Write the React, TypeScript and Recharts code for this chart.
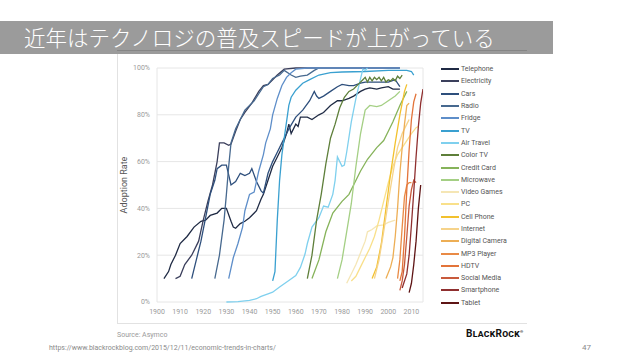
import { CartesianGrid, Label, Line, LineChart, ReferenceLine, XAxis, YAxis } from "recharts";

// [year, adoption %]
const telephone = [[1903,10],[1905,13],[1906,16],[1908,20],[1910,25],[1913,28],[1916,32],[1919,34.5],[1921,35],[1923,37],[1926,38],[1928,40],[1930,40],[1932,34.5],[1933,32],[1934,31.5],[1936,33.5],[1938,34.5],[1940,36],[1943,39],[1945,44],[1946,46],[1948,52],[1950,58],[1952,62],[1954,66],[1956,72],[1957,76],[1958,72],[1960,76],[1961,75],[1962,79],[1965,79],[1967,78],[1970,80],[1972,81],[1975,84],[1978,86],[1980,86],[1983,87],[1985,88],[1988,90],[1990,91],[1992,91.5],[1995,91],[1997,91.5],[2000,92],[2002,91],[2005,91]];
const electricity = [[1908,10],[1910,11],[1912,16],[1915,20],[1918,26],[1920,35],[1922,43],[1924,50],[1926,60],[1927,68],[1929,68],[1931,67],[1932,67.5],[1934,73],[1936,78],[1938,81],[1941,85],[1944,90],[1946,92.5],[1948,93],[1950,95],[1952,97],[1955,99.5],[1960,100],[1980,100],[2005,100]];
const cars = [[1915,10],[1917,18],[1919,26],[1921,36],[1923,46],[1925,52],[1926,57],[1928,58.5],[1930,58.5],[1932,50],[1934,51.5],[1936,55],[1938,54],[1940,55],[1941,57],[1943,51.5],[1945,47.5],[1946,46.5],[1948,55],[1950,60],[1952,64],[1954,68],[1955,70],[1957,74],[1960,79],[1963,82],[1966,86],[1968,90],[1969,88],[1970,87],[1972,88],[1975,90],[1978,92],[1980,93],[1983,92.5],[1985,92.5],[1988,93.5],[1990,94],[1995,94],[2000,94],[2003,95],[2005,92]];
const radio = [[1925,10],[1927,20],[1929,35],[1930,46],[1931,58],[1932,68],[1934,74],[1936,78],[1938,82],[1940,84],[1942,86],[1944,89],[1946,92],[1948,93],[1950,95.5],[1953,97],[1955,99],[1958,97],[1960,96],[1962,96.5],[1965,97],[1968,99],[1970,100]];
const fridge = [[1931,10],[1933,19],[1935,25],[1937,32],[1938,39],[1940,46],[1942,47],[1944,56],[1946,63],[1947,68],[1949,74],[1950,80],[1952,87],[1954,92.5],[1956,96],[1958,98],[1960,99.5],[1965,100],[2005,100]];
const tv = [[1950,9],[1951,13],[1952,35],[1953,52],[1954,63],[1955,70],[1956,77],[1957,84],[1958,87.5],[1960,90.5],[1963,93.5],[1966,95],[1970,97],[1975,98],[1980,98.3],[1990,98.5],[2000,99],[2008,99],[2010,98.5],[2011,97]];
const airTravel = [[1930,0],[1935,0.2],[1940,0.7],[1943,1.4],[1945,2.4],[1948,3.5],[1950,4.2],[1953,6.4],[1955,7.8],[1957,9.2],[1960,11.3],[1962,14.8],[1964,20.5],[1965,25],[1967,32],[1970,36],[1972,41],[1974,40.5],[1976,46],[1977,52],[1978,62],[1980,58],[1981,58.5],[1982,64],[1984,77],[1986,87],[1988,95.5],[1989,99.5],[1990,99],[1991,100]];
const colorTv = [[1965,10],[1967,20],[1969,35],[1971,46],[1973,59],[1975,70],[1977,76],[1979,83],[1981,87.5],[1983,90],[1985,91],[1987,93],[1989,95],[1990,96],[1991,94],[1992,96],[1993,94.5],[1994,96],[1995,95],[1996,96],[1997,94.5],[1998,96],[1999,94],[2000,95],[2001,94.5],[2002,95.5],[2003,94.5],[2004,96.5],[2005,95.5],[2006,97]];
const creditCard = [[1967,10],[1970,18],[1973,30],[1976,38],[1980,43],[1983,46],[1985,50],[1988,56],[1991,61],[1995,66],[1998,69],[2000,73],[2002,77],[2005,84],[2008,90]];
const microwave = [[1978,10],[1980,18],[1982,30],[1984,42],[1986,58],[1988,72],[1990,82],[1992,84],[1995,83.5],[1997,84],[2000,86],[2003,88],[2005,90]];
const videoGames = [[1982,8],[1984,12],[1986,16],[1988,21],[1990,26],[1991,30],[1993,31],[1995,32.5],[1998,33],[2000,34],[2003,35]];
const pc = [[1984,9],[1986,11],[1988,15],[1990,19],[1992,23],[1994,28],[1996,35],[1998,43],[2000,51],[2002,58],[2004,63],[2006,66],[2008,69],[2010,72],[2012,74.5],[2013,75]];
const cellPhone = [[1993,10],[1995,15],[1997,25],[1999,40],[2001,55],[2003,68],[2005,80],[2007,90],[2008,93]];
const internet = [[1994,10],[1996,18],[1998,30],[2000,43],[2002,55],[2004,66],[2006,72],[2008,76],[2009,78]];
const digitalCamera = [[1999,10],[2001,15],[2002,19],[2003,28],[2004,40],[2005,55],[2006,66],[2007,76],[2008,84],[2009,85]];
const mp3Player = [[2004,10],[2005,18],[2006,32],[2007,45],[2008,50],[2009,51],[2010,51]];
const hdtv = [[2005,9],[2006,13],[2007,28],[2008,48],[2009,65],[2010,78],[2011,85.5],[2012,89]];
const socialMedia = [[2005,5],[2006,9],[2007,16],[2008,28],[2009,41],[2010,48],[2011,52],[2012,51]];
const smartphone = [[2006,6],[2008,12],[2009,20],[2010,33],[2011,47],[2012,62],[2013,75],[2014,85],[2015,91]];
const tablet = [[2009,4],[2010,8],[2011,16],[2012,26],[2013,40],[2014,50]];

const seriesNames = ["Telephone", "Electricity", "Cars", "Radio", "Fridge", "TV", "Air Travel", "Color TV", "Credit Card", "Microwave", "Video Games", "PC", "Cell Phone", "Internet", "Digital Camera", "MP3 Player", "HDTV", "Social Media", "Smartphone", "Tablet"];
const seriesColors = ["#1f2a44", "#3b3f5c", "#2e4f7c", "#47698f", "#5e8ec9", "#3aa0d0", "#7fd0ee", "#5e7f3a", "#86b35a", "#a4cf84", "#f5e6b5", "#f9e08a", "#f2c12e", "#f6d38a", "#edae55", "#e98a45", "#e3743a", "#c85a3c", "#8f2f2f", "#5e1414"];
const seriesValues = [telephone, electricity, cars, radio, fridge, tv, airTravel, colorTv, creditCard, microwave, videoGames, pc, cellPhone, internet, digitalCamera, mp3Player, hdtv, socialMedia, smartphone, tablet];

const yearTicks = [1900, 1910, 1920, 1930, 1940, 1950, 1960, 1970, 1980, 1990, 2000, 2010];
const pctTicks = [0, 20, 40, 60, 80, 100];

const toPoints = (arr: number[][]) => arr.map(([year, v]) => ({ year, v }));

const tickFont = { fontSize: 7, fill: "#9a9a9a", fontFamily: "Roboto, sans-serif" };

const App = () => {
  return (
    <div style={{ position: "absolute", left: 0, top: 0, width: 638, height: 359, background: "#fff", overflow: "hidden", fontFamily: "Roboto, sans-serif" }}>
      {/* frame of the pasted chart image */}
      <div style={{ position: "absolute", left: 117, top: 50, width: 1, height: 273, background: "#e2e2e2" }} />
      <div style={{ position: "absolute", left: 117, top: 323, width: 410, height: 1, background: "#e2e2e2" }} />

      <div style={{ position: "absolute", left: 0, top: 0 }}>
        <LineChart width={638} height={359} margin={{ top: 68, right: 215, bottom: 36, left: 117 }}>
          <CartesianGrid vertical={false} stroke="#e6e6e6" />
          <ReferenceLine x={1900} stroke="#e6e6e6" />
          <ReferenceLine x={2015} stroke="#e6e6e6" />
          <XAxis
            type="number"
            dataKey="year"
            domain={[1900, 2015]}
            ticks={yearTicks}
            allowDataOverflow
            axisLine={false}
            tickLine={false}
            tickSize={0}
            tickMargin={7}
            height={21}
            tick={tickFont}
          />
          <YAxis
            type="number"
            domain={[0, 100]}
            ticks={pctTicks}
            tickFormatter={(v: number) => `${v}%`}
            axisLine={false}
            tickLine={false}
            tickSize={0}
            tickMargin={7}
            width={40}
            tick={tickFont}
          >
            <Label value="Adoption Rate" angle={-90} position="insideLeft" offset={7} style={{ fontSize: 9, fill: "#555", textAnchor: "middle" }} />
          </YAxis>
          {seriesValues.map((vals, i) => (
            <Line
              key={seriesNames[i]}
              data={toPoints(vals)}
              dataKey="v"
              name={seriesNames[i]}
              type="linear"
              stroke={seriesColors[i]}
              strokeWidth={1.3}
              dot={false}
              isAnimationActive={false}
            />
          ))}
        </LineChart>
      </div>

      {/* legend */}
      <div style={{ position: "absolute", left: 441, top: 63 }}>
        {seriesNames.map((name, i) => (
          <div key={name} style={{ height: 12.3, display: "flex", alignItems: "center" }}>
            <div style={{ width: 18, height: 2, background: seriesColors[i], marginRight: 2 }} />
            <span style={{ fontSize: 7, color: "#555", whiteSpace: "nowrap" }}>{name}</span>
          </div>
        ))}
      </div>

      {/* slide title */}
      <div style={{ position: "absolute", left: 0, top: 21, width: 553, height: 33, background: "#9b9b9b" }} />
      <div style={{ position: "absolute", left: 117, top: 50, width: 410, height: 1, background: "#858585" }} />
      <div style={{ position: "absolute", left: 24, top: 23, color: "#fff", fontSize: 21.5, lineHeight: "28px", fontFamily: "'Noto Sans CJK JP', sans-serif", fontWeight: 300, whiteSpace: "nowrap" }}>
        近年はテクノロジの普及スピードが上がっている
      </div>

      {/* footer */}
      <div style={{ position: "absolute", left: 117, top: 331, fontSize: 7, color: "#9a9a9a" }}>Source: Asymco</div>
      <div style={{ position: "absolute", left: 466, top: 328, fontSize: 10, fontWeight: 700, color: "#111", fontVariant: "small-caps", letterSpacing: 0.3 }}>
        BlackRock<sup style={{ fontSize: 4 }}>®</sup>
      </div>
      <div style={{ position: "absolute", left: 49, top: 344, fontSize: 7, color: "#8a8a8a" }}>
        https://www.blackrockblog.com/2015/12/11/economic-trends-in-charts/
      </div>
      <div style={{ position: "absolute", left: 582, top: 343, fontSize: 8, color: "#8a8a8a" }}>47</div>
    </div>
  );
};

export default App;
